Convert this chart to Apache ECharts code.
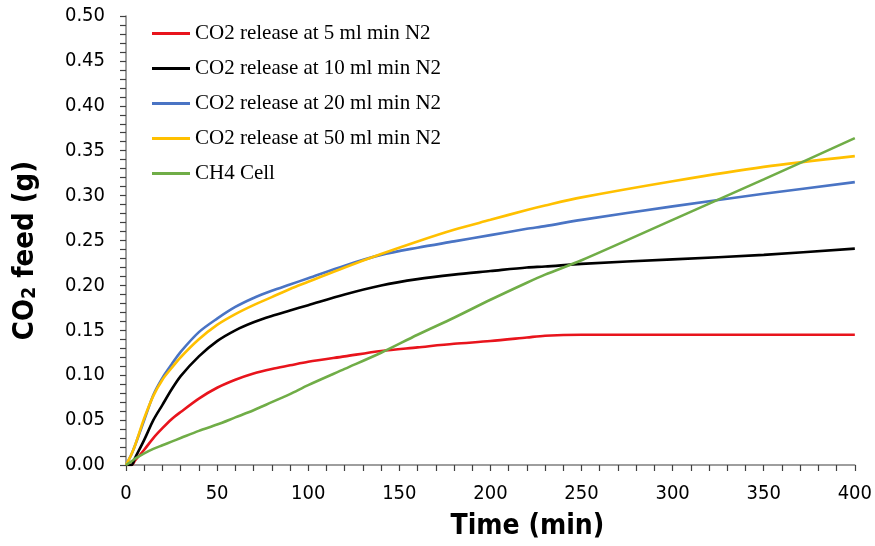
<!DOCTYPE html>
<html>
<head>
<meta charset="utf-8">
<script src="https://cdn.jsdelivr.net/npm/echarts@6/dist/echarts.min.js"></script>
<style>
  html, body { margin: 0; padding: 0; background: #fff; }
  #chart { width: 875px; height: 546px; }
</style>
</head>
<body>
<div id="chart"></div>
<script>
// Time axis (min) shared by all series
const timeMin = [0, 3, 5, 10, 15, 20, 25, 30, 40, 50, 60, 70, 80, 90, 100, 120, 140, 160, 180, 200, 220, 230, 250, 300, 350, 400];

// CO2 feed (g) for each N2 flow rate
const co2At5 = [0, 0, 0.005, 0.017, 0.030, 0.041, 0.051, 0.059, 0.074, 0.086, 0.095, 0.102, 0.107, 0.111, 0.115, 0.121, 0.127, 0.131, 0.135, 0.138, 0.142, 0.144, 0.145, 0.145, 0.145, 0.145];
const co2At10 = [0, 0, 0.008, 0.028, 0.050, 0.067, 0.084, 0.099, 0.121, 0.138, 0.150, 0.159, 0.166, 0.172, 0.178, 0.190, 0.200, 0.207, 0.212, 0.216, 0.220, 0.221, 0.224, 0.229, 0.234, 0.241];
const co2At20 = [0, 0.012, 0.022, 0.050, 0.078, 0.097, 0.112, 0.126, 0.148, 0.163, 0.176, 0.186, 0.194, 0.201, 0.208, 0.222, 0.234, 0.242, 0.249, 0.256, 0.263, 0.266, 0.273, 0.288, 0.302, 0.315];
const co2At50 = [0, 0.012, 0.022, 0.052, 0.077, 0.095, 0.108, 0.120, 0.140, 0.156, 0.168, 0.178, 0.187, 0.196, 0.204, 0.220, 0.235, 0.249, 0.262, 0.273, 0.284, 0.289, 0.298, 0.316, 0.332, 0.344];
const ch4Cell = [0, 0.004, 0.007, 0.013, 0.018, 0.022, 0.026, 0.030, 0.038, 0.045, 0.053, 0.061, 0.070, 0.079, 0.089, 0.107, 0.125, 0.145, 0.164, 0.184, 0.203, 0.212, 0.228, 0.273, 0.318, 0.364];

const seriesNames = [
  'CO2 release at 5 ml min N2',
  'CO2 release at 10 ml min N2',
  'CO2 release at 20 ml min N2',
  'CO2 release at 50 ml min N2',
  'CH4 Cell'
];
const seriesValues = [co2At5, co2At10, co2At20, co2At50, ch4Cell];
const seriesColors = ['#e8141c', '#000000', '#4a74c4', '#ffc000', '#70ad47'];

const axisFont = '"DejaVu Sans Condensed", "DejaVu Sans", sans-serif';

const chart = echarts.init(document.getElementById('chart'), null, { renderer: 'canvas' });

chart.setOption({
  animation: false,
  backgroundColor: '#ffffff',
  grid: { left: 126, right: 20, top: 16, bottom: 81, containLabel: false },
  legend: {
    orient: 'vertical',
    left: 152,
    top: 23,
    padding: 0,
    icon: 'rect',
    itemWidth: 38,
    itemHeight: 3,
    itemGap: 14,
    textStyle: {
      fontFamily: '"Liberation Serif", "Times New Roman", serif',
      fontSize: 21,
      lineHeight: 20,
      color: '#000'
    },
    data: seriesNames
  },
  xAxis: {
    type: 'value',
    min: 0,
    max: 400,
    interval: 50,
    name: 'Time (min)',
    nameLocation: 'middle',
    nameGap: 48,
    nameTextStyle: { fontFamily: axisFont, fontWeight: 'bold', fontSize: 28, color: '#000', padding: [0, 0, 0, 74] },
    axisLine: { show: true, onZero: false, lineStyle: { color: '#7f7f7f', width: 1.5 } },
    axisTick: { show: true, inside: false, length: 6, lineStyle: { color: '#404040', width: 1.2 } },
    minorTick: { show: true, splitNumber: 5, length: 6, lineStyle: { color: '#404040', width: 1.2 } },
    splitLine: { show: false },
    axisLabel: { fontFamily: axisFont, fontSize: 20, color: '#000', margin: 19 }
  },
  yAxis: {
    type: 'value',
    min: 0,
    max: 0.5,
    interval: 0.05,
    name: '{t|CO}{s|2}{t| feed (g)}',
    nameLocation: 'middle',
    nameGap: 86,
    nameRotate: 90,
    nameTextStyle: {
      padding: [0, 20, 0, 0],
      rich: {
        t: { fontFamily: axisFont, fontWeight: 'bold', fontSize: 29, color: '#000' },
        s: { fontFamily: axisFont, fontWeight: 'bold', fontSize: 19, color: '#000', verticalAlign: 'bottom', padding: [11, 0, 0, 0] }
      }
    },
    axisLine: { show: true, lineStyle: { color: '#7f7f7f', width: 1.5 } },
    axisTick: { show: true, inside: false, length: 6, lineStyle: { color: '#404040', width: 1.2 } },
    minorTick: { show: true, splitNumber: 5, length: 6, lineStyle: { color: '#404040', width: 1.2 } },
    splitLine: { show: false },
    axisLabel: {
      fontFamily: axisFont, fontSize: 20, color: '#000', margin: 21,
      formatter: v => v.toFixed(2)
    }
  },
  series: seriesNames.map((name, i) => ({
    name,
    type: 'line',
    smooth: 0.3,
    showSymbol: false,
    symbol: 'none',
    color: seriesColors[i],
    lineStyle: { width: 2.6, color: seriesColors[i] },
    data: timeMin.map((t, k) => [t, seriesValues[i][k]])
  }))
});
</script>
</body>
</html>
